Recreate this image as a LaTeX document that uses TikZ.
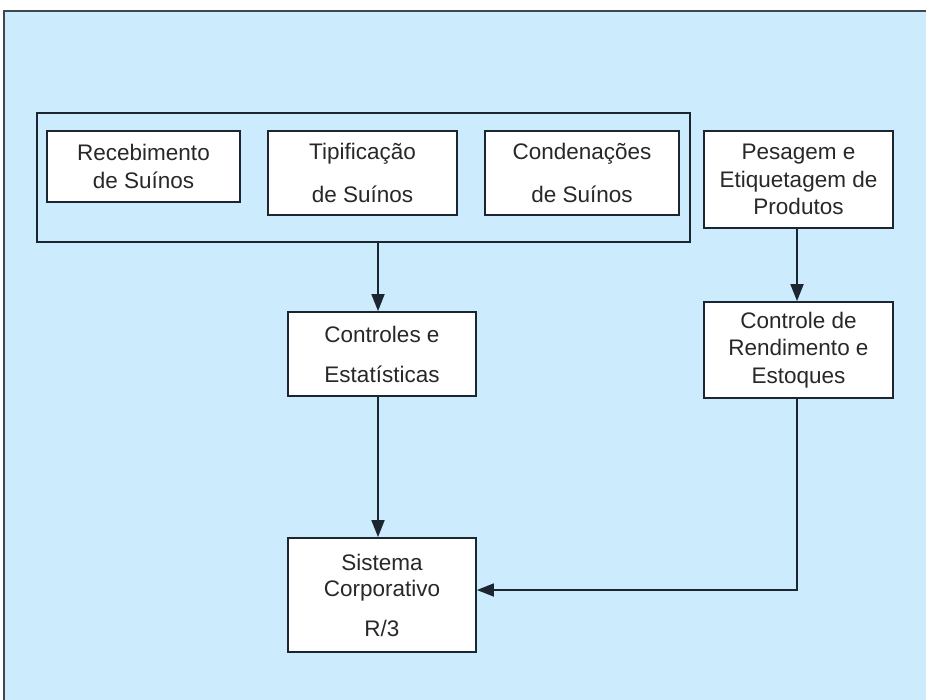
\documentclass[tikz,border=0pt]{standalone}
\usepackage{fontspec}
\setmainfont{Liberation Sans}
\usetikzlibrary{arrows.meta}
\definecolor{panelblue}{RGB}{204,235,252}
\definecolor{ink}{RGB}{28,38,48}
\definecolor{textgray}{RGB}{40,40,40}

\begin{document}
\begin{tikzpicture}[x=1pt,y=-1pt,
  box/.style={draw=ink, line width=1.8pt, fill=white, inner sep=0pt,
    align=center, text=textgray, font=\fontsize{22.5}{27.5}\selectfont},
  groupbox/.style={draw=ink, line width=1.8pt, inner sep=0pt},
  flow/.style={draw=ink, line width=1.8pt, -{Triangle[length=17pt,width=13pt]}}]
\useasboundingbox (0,0) rectangle (926,700);
% page and panel
\fill[white] (0,0) rectangle (926,700);
\fill[panelblue] (4,11) rectangle (926,700);
\draw[ink!85, line width=1.5pt] (4,700) -- (4,11) -- (926,11);

% guide coordinates for the connectors
\coordinate (colA) at (378,0);
\coordinate (colB) at (797,0);
\coordinate (rowC) at (0,590);

% group of slaughter-floor modules
\node[groupbox, minimum width=653pt, minimum height=129pt] (grp) at (363.5,177.5) {};
\node[box, minimum width=193pt, minimum height=71pt] (receb) at (143.5,166.5)
  {Recebimento\\de Suínos};
\node[box, minimum width=189pt, minimum height=84pt] (tipif) at (362.5,173)
  {Tipificação\\[15.5pt]de Suínos};
\node[box, minimum width=194pt, minimum height=84pt] (conden) at (582,173)
  {Condenações\\[15.5pt]de Suínos};

% right column
\node[box, minimum width=189pt, minimum height=97pt] (pesag) at (798.5,179.5)
  {Pesagem e\\Etiquetagem de\\Produtos};
\node[box, minimum width=189pt, minimum height=96pt] (rend) at (798.5,350)
  {Controle de\\Rendimento e\\Estoques};

% centre column
\node[box, minimum width=188pt, minimum height=84pt] (stats) at (382,354)
  {Controles e\\[12.5pt]Estatísticas};
\node[box, minimum width=188pt, minimum height=114pt] (corp) at (382,595)
  {Sistema\\[-1.5pt]Corporativo\\[12.5pt]R/3};

% connectors
\draw[flow] (grp.south -| colA) -- (stats.north -| colA);
\draw[flow] (stats.south -| colA) -- (corp.north -| colA);
\draw[flow] (pesag.south -| colB) -- (rend.north -| colB);
\draw[flow] (rend.south -| colB) |- (corp.east |- rowC);
\end{tikzpicture}
\end{document}
